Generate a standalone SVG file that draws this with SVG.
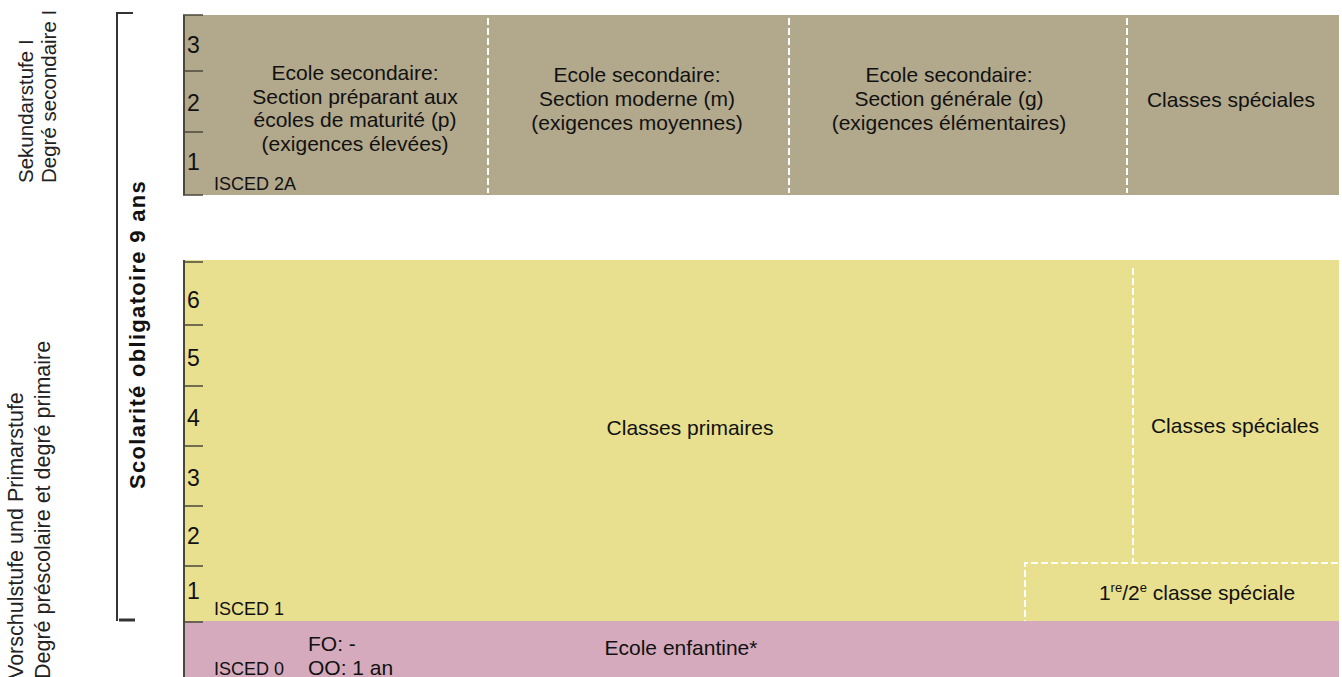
<svg xmlns="http://www.w3.org/2000/svg" width="1342" height="677" viewBox="0 0 1342 677">
<style>
text{font-family:"Liberation Sans",Arial,sans-serif;fill:#111;}
.b{font-size:21px;}
.c{text-anchor:middle;}
.d{font-size:23px;}
.i{font-size:18px;}
.side{font-size:20.5px;fill:#222;}
.side2{font-size:21.5px;fill:#222;}
.edge{stroke:#4a4838;stroke-width:2;fill:none;}
.tick{stroke:#4a4838;stroke-width:1.5;}
.dash{stroke:#fff;stroke-width:2;stroke-dasharray:7 3;fill:none;}
.br{stroke:#333;fill:none;}
</style>
<g id="side-labels">
<text class="side" transform="translate(33,183) rotate(-90)">Sekundarstufe I</text>
<text class="side" transform="translate(56,183) rotate(-90)">Degré secondaire I</text>
<text class="side2" transform="translate(23,679) rotate(-90)">Vorschulstufe und Primarstufe</text>
<text class="side2" transform="translate(50,679) rotate(-90)">Degré préscolaire et degré primaire</text>
</g>
<g id="bracket">
<path class="br" stroke-width="2" d="M133,13 H117 V621"/>
<path class="br" stroke-width="3" d="M119,620 H135"/>
<text transform="translate(145,334.5) rotate(-90)" text-anchor="middle" style="font-size:22px;font-weight:bold;letter-spacing:1.3px">Scolarité obligatoire 9 ans</text>
</g>
<g id="secondary">
<rect x="183" y="15" width="1156" height="180" fill="#B2A88B"/>
<line class="edge" x1="184" y1="15" x2="184" y2="195"/>
<line class="tick" x1="183" y1="15" x2="203" y2="15"/>
<line class="tick" x1="183" y1="71" x2="203" y2="71"/>
<line class="tick" x1="183" y1="132" x2="203" y2="132"/>
<line class="tick" x1="183" y1="195" x2="203" y2="195"/>
<text class="d" x="187" y="53">3</text>
<text class="d" x="187" y="111">2</text>
<text class="d" x="187" y="170">1</text>
<text class="i" x="214" y="190">ISCED 2A</text>
<line class="dash" x1="488" y1="18" x2="488" y2="193"/>
<line class="dash" x1="789" y1="18" x2="789" y2="193"/>
<line class="dash" x1="1127" y1="18" x2="1127" y2="193"/>
<text class="b c" x="355" y="80">Ecole secondaire:</text>
<text class="b c" x="355" y="103.5">Section préparant aux</text>
<text class="b c" x="355" y="127">écoles de maturité (p)</text>
<text class="b c" x="355" y="150.5">(exigences élevées)</text>
<text class="b c" x="637" y="82">Ecole secondaire:</text>
<text class="b c" x="637" y="106">Section moderne (m)</text>
<text class="b c" x="637" y="130">(exigences moyennes)</text>
<text class="b c" x="949" y="82">Ecole secondaire:</text>
<text class="b c" x="949" y="106">Section générale (g)</text>
<text class="b c" x="949" y="130">(exigences élémentaires)</text>
<text class="b c" x="1231" y="107">Classes spéciales</text>
</g>
<g id="primary">
<rect x="183" y="260" width="1156" height="361" fill="#E8E08E"/>
<line class="edge" x1="184" y1="260" x2="184" y2="621"/>
<line class="tick" x1="183" y1="262" x2="203" y2="262"/>
<line class="tick" x1="183" y1="325" x2="203" y2="325"/>
<line class="tick" x1="183" y1="386" x2="203" y2="386"/>
<line class="tick" x1="183" y1="446" x2="203" y2="446"/>
<line class="tick" x1="183" y1="506" x2="203" y2="506"/>
<line class="tick" x1="183" y1="566" x2="203" y2="566"/>
<text class="d" x="187" y="308">6</text>
<text class="d" x="187" y="366">5</text>
<text class="d" x="187" y="426">4</text>
<text class="d" x="187" y="486">3</text>
<text class="d" x="187" y="544">2</text>
<text class="d" x="187" y="599">1</text>
<text class="i" x="214" y="615">ISCED 1</text>
<path class="dash" d="M1133,268 V563 M1338,563 H1025 V623"/>
<text class="b c" x="690" y="435">Classes primaires</text>
<text class="b c" x="1235" y="433">Classes spéciales</text>
<text class="b c" x="1197" y="600">1<tspan font-size="13" dy="-8">re</tspan><tspan dy="8">/2</tspan><tspan font-size="13" dy="-8">e</tspan><tspan dy="8"> classe spéciale</tspan></text>
</g>
<g id="kindergarten">
<rect x="183" y="621" width="1156" height="56" fill="#D4AABC"/>
<line class="edge" x1="184" y1="621" x2="184" y2="677"/>
<line class="tick" x1="183" y1="622" x2="203" y2="622"/>
<text class="i" x="214" y="675">ISCED 0</text>
<text class="b" x="308" y="651">FO: -</text>
<text class="b" x="308" y="675">OO: 1 an</text>
<text class="b c" x="681" y="655">Ecole enfantine*</text>
</g>
<g id="connectors"></g>
</svg>
